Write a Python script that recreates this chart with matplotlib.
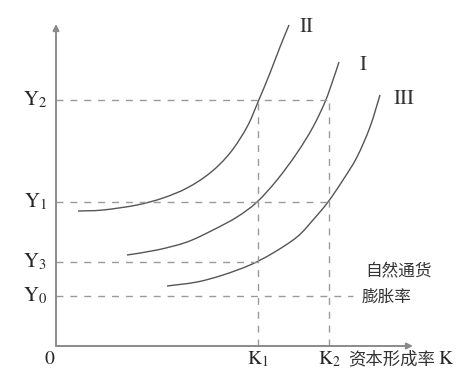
import matplotlib
matplotlib.use("Agg")
import matplotlib.pyplot as plt
from matplotlib.path import Path
from matplotlib.patches import PathPatch

plt.rcParams['mathtext.fontset'] = 'stix'

# Levels (data units, origin at the axes corner)
y_names = ["Y", "Y", "Y", "Y"]
y_subs = ["0", "3", "1", "2"]
y_levels = [50, 84, 144, 246]
y_dash_end = [297, 202, 273, 273]

k_names = ["K", "K"]
k_subs = ["1", "2"]
k_levels = [202, 273]
k_dash_top = [246, 246]

# Curves
curve_II_x = [22, 47, 81, 107, 131, 154, 174, 191, 202, 214, 224, 233]
curve_II_y = [135, 136, 141, 148, 158, 173, 193, 219, 244, 273, 299, 321]
curve_I_x = [71, 101, 131, 157, 181, 201, 221, 241, 257, 269, 277, 283]
curve_I_y = [91, 96, 104, 116, 129, 144, 166, 193, 219, 244, 266, 284]
curve_III_x = [111, 141, 167, 194, 217, 241, 257, 272, 287, 301, 314, 324]
curve_III_y = [60, 64, 71, 81, 93, 109, 126, 144, 166, 189, 219, 251]
curve_labels = ["II", "I", "III"]

fig = plt.figure(figsize=(4.74, 3.8), dpi=100)
ax = fig.add_axes([0, 0, 1, 1])
ax.set_xlim(-56, 418)
ax.set_ylim(-34, 346)
ax.axis('off')

axis_col = '#8a8a8a'
dash_col = '#9a9a9a'
curve_col = '#555555'
text_col = '#262626'

# axes with arrows
ax.annotate('', xy=(0, 322), xytext=(0, 0),
            arrowprops=dict(arrowstyle='-|>', color=axis_col, lw=1.4,
                            mutation_scale=9, shrinkA=0, shrinkB=0))
ax.annotate('', xy=(357, 0), xytext=(0, 0),
            arrowprops=dict(arrowstyle='-|>', color=axis_col, lw=1.4,
                            mutation_scale=9, shrinkA=0, shrinkB=0))

# dashed guides
for yv, xe in zip(y_levels, y_dash_end):
    ax.plot([0, xe], [yv, yv], color=dash_col, lw=1.0, dashes=(5, 5))
for kv, yt in zip(k_levels, k_dash_top):
    ax.plot([kv, kv], [0, yt], color=dash_col, lw=1.0, dashes=(5, 5))


def smooth_path(xs, ys):
    """Catmull-Rom style Bezier path passing through the given points."""
    pts = list(zip(xs, ys))
    verts = [pts[0]]
    codes = [Path.MOVETO]
    n = len(pts)
    for i in range(n - 1):
        p0 = pts[i - 1] if i > 0 else pts[i]
        p1 = pts[i]
        p2 = pts[i + 1]
        p3 = pts[i + 2] if i + 2 < n else pts[i + 1]
        c1 = (p1[0] + (p2[0] - p0[0]) / 6.0, p1[1] + (p2[1] - p0[1]) / 6.0)
        c2 = (p2[0] - (p3[0] - p1[0]) / 6.0, p2[1] - (p3[1] - p1[1]) / 6.0)
        verts += [c1, c2, p2]
        codes += [Path.CURVE4] * 3
    return Path(verts, codes)


for cx, cy in [(curve_II_x, curve_II_y), (curve_I_x, curve_I_y), (curve_III_x, curve_III_y)]:
    ax.add_patch(PathPatch(smooth_path(cx, cy), facecolor='none',
                           edgecolor=curve_col, lw=1.0))

# curve labels
ax.text(curve_II_x[-1] + 18, curve_II_y[-1] - 1, r'$\mathrm{' + curve_labels[0] + '}$',
        fontsize=15, ha='center', va='center', color='#333333')
ax.text(curve_I_x[-1] + 24, curve_I_y[-1] - 2, r'$\mathrm{' + curve_labels[1] + '}$',
        fontsize=15, ha='center', va='center', color='#333333')
ax.text(curve_III_x[-1] + 24, curve_III_y[-1] - 3, r'$\mathrm{' + curve_labels[2] + '}$',
        fontsize=15, ha='center', va='center', color='#333333')

# y labels
for nm, sb, yv in zip(y_names, y_subs, y_levels):
    ax.text(-9, yv, r'$\mathrm{' + nm + '}_{' + sb + '}$',
            fontsize=15, ha='right', va='center', color=text_col)

# x labels
for nm, sb, kv in zip(k_names, k_subs, k_levels):
    ax.text(kv, -13, r'$\mathrm{' + nm + '}_{' + sb + '}$',
            fontsize=14, ha='center', va='center', color=text_col)
ax.text(-6, -12, r'$\mathrm{0}$', fontsize=14, ha='center', va='center', color=text_col)

cjk = ['Noto Sans CJK SC', 'DejaVu Sans']
ax.text(292, -13, '资本形成率', fontsize=12.5, ha='left', va='center',
        color='#333333', family=cjk, fontweight='light')
ax.text(382, -12, r'$\mathrm{K}$', fontsize=14, ha='left', va='center', color=text_col)

ax.text(309, 75, '自然通货', fontsize=12, ha='left', va='center',
        color='#333333', family=cjk, fontweight='light')
ax.text(306, 49, '膨胀率', fontsize=12, ha='left', va='center',
        color='#333333', family=cjk, fontweight='light')

fig.savefig('out.png', dpi=100, facecolor='white')
